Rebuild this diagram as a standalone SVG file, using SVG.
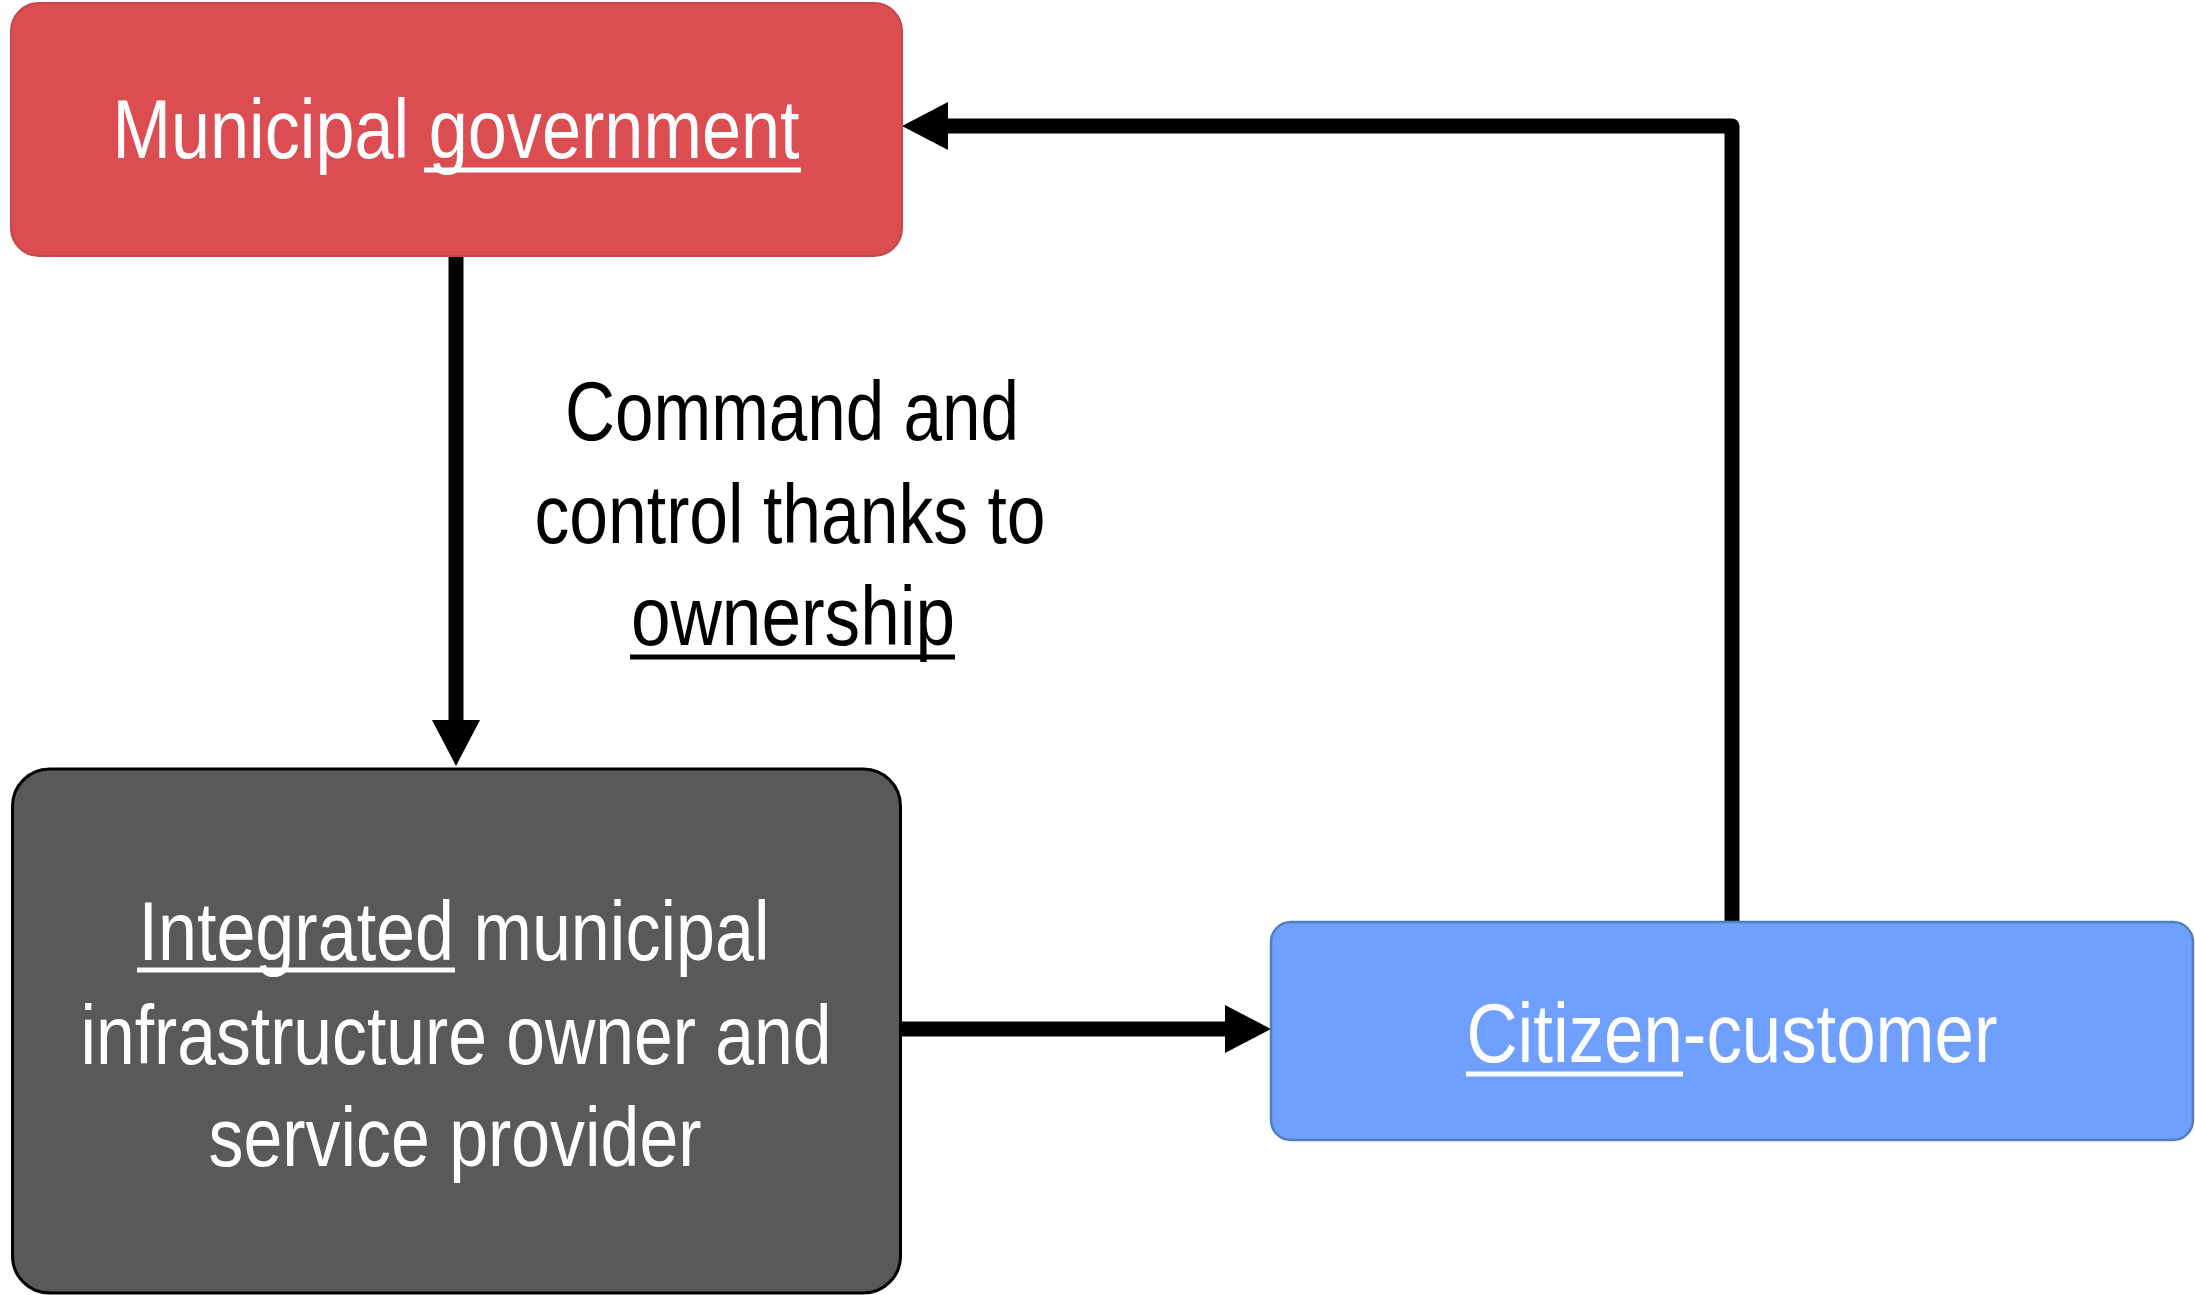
<svg xmlns="http://www.w3.org/2000/svg" width="2195" height="1295" viewBox="0 0 2195 1295">
  <style>
    .lbl { font-family: "Liberation Sans", Arial, sans-serif; font-size: 84px; text-anchor: middle; }
    .w { fill: #ffffff; }
    .k { fill: #000000; }
    .uw { stroke: #ffffff; stroke-width: 5; }
    .uk { stroke: #000000; stroke-width: 5; }
    .conn { fill: none; stroke: #000000; stroke-width: 15; stroke-linejoin: round; }
  </style>
  <defs>
    <marker id="arr" markerUnits="userSpaceOnUse" markerWidth="50" markerHeight="50" viewBox="0 -25 50 50" refX="1" refY="0" orient="auto">
      <path d="M0,-24 L46,0 L0,24 z" fill="#000000"/>
    </marker>
  </defs>
  <rect width="2195" height="1295" fill="#ffffff"/>

  <g id="connectors">
    <path class="conn" d="M456 256 V721" marker-end="url(#arr)"/>
    <path class="conn" d="M902 1029 H1226" marker-end="url(#arr)"/>
    <path class="conn" d="M1732 922 V126 H947" marker-end="url(#arr)"/>
  </g>

  <g id="municipal-government">
    <rect x="11" y="3" width="891" height="253" rx="28" ry="28" fill="#db4d51" stroke="#c4484b" stroke-width="2"/>
    <text class="lbl w" x="456" y="158" textLength="687" lengthAdjust="spacingAndGlyphs">Municipal government</text>
    <line class="uw" x1="424" y1="170" x2="801" y2="170"/>
  </g>

  <g id="integrated-provider">
    <rect x="12.5" y="769" width="888" height="524" rx="37" ry="37" fill="#595959" stroke="#000000" stroke-width="3"/>
    <text class="lbl w" x="454" y="960" textLength="631" lengthAdjust="spacingAndGlyphs">Integrated municipal</text>
    <line class="uw" x1="137" y1="970" x2="455" y2="970"/>
    <text class="lbl w" x="456" y="1064" textLength="751" lengthAdjust="spacingAndGlyphs">infrastructure owner and</text>
    <text class="lbl w" x="455" y="1166" textLength="493" lengthAdjust="spacingAndGlyphs">service provider</text>
  </g>

  <g id="label-command">
    <text class="lbl k" x="792" y="440" textLength="454" lengthAdjust="spacingAndGlyphs">Command and</text>
    <text class="lbl k" x="790" y="543" textLength="511" lengthAdjust="spacingAndGlyphs">control thanks to</text>
    <text class="lbl k" x="793" y="645" textLength="324" lengthAdjust="spacingAndGlyphs">ownership</text>
    <line class="uk" x1="630" y1="657" x2="955" y2="657"/>
  </g>

  <g id="citizen-customer">
    <rect x="1271" y="922" width="922" height="218" rx="20" ry="20" fill="#70a0ff" stroke="#4f7fc0" stroke-width="2.5"/>
    <text class="lbl w" x="1732" y="1062" textLength="531" lengthAdjust="spacingAndGlyphs">Citizen-customer</text>
    <line class="uw" x1="1466" y1="1074" x2="1683" y2="1074"/>
  </g>
</svg>
